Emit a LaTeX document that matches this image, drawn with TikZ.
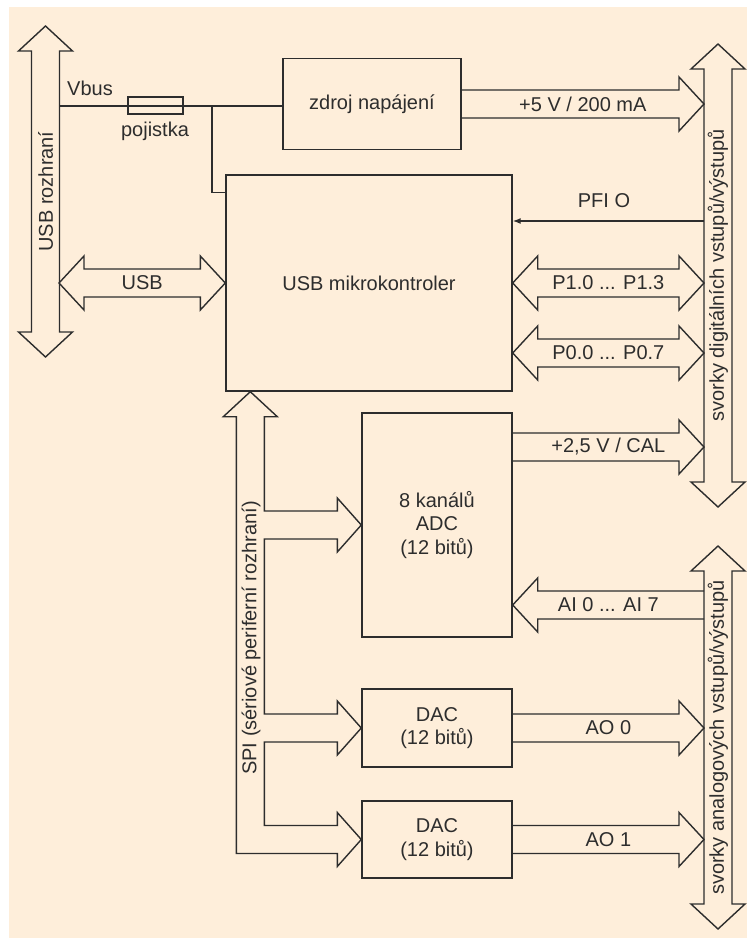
\documentclass[tikz,border=0pt]{standalone}
\usepackage{fontspec}
\setmainfont{Liberation Sans}
\usetikzlibrary{calc,arrows.meta}
\definecolor{paper}{RGB}{254,238,218}
\definecolor{ink}{RGB}{45,45,45}
\newcommand{\ahead}{13.5pt}
\newcommand{\ashaft}{7pt}
\newcommand{\ahlen}{12.5pt}
% fat arrow, head at #4 only: [label opts]{name}{from}{to}{label}
\newcommand{\onearrow}[5][]{%
  \draw[bus] ($(#3)!\ashaft!90:(#4)$)
    -- ($(#4)!\ahlen!(#3)!\ashaft!-90:(#3)$)
    -- ($(#4)!\ahlen!(#3)!\ahead!-90:(#3)$)
    -- (#4)
    -- ($(#4)!\ahlen!(#3)!\ahead!90:(#3)$)
    -- ($(#4)!\ahlen!(#3)!\ashaft!90:(#3)$)
    -- ($(#3)!\ashaft!-90:(#4)$);
  \node[lbl,#1] (#2) at ($(#3)!.5!(#4)$) {#5};}
% fat arrow, heads at both ends
\newcommand{\twoarrow}[5][]{%
  \draw[bus] (#3)
    -- ($(#3)!\ahlen!(#4)!\ahead!90:(#4)$)
    -- ($(#3)!\ahlen!(#4)!\ashaft!90:(#4)$)
    -- ($(#4)!\ahlen!(#3)!\ashaft!-90:(#3)$)
    -- ($(#4)!\ahlen!(#3)!\ahead!-90:(#3)$)
    -- (#4)
    -- ($(#4)!\ahlen!(#3)!\ahead!90:(#3)$)
    -- ($(#4)!\ahlen!(#3)!\ashaft!90:(#3)$)
    -- ($(#3)!\ahlen!(#4)!\ashaft!-90:(#4)$)
    -- ($(#3)!\ahlen!(#4)!\ahead!-90:(#4)$)
    -- cycle;
  \node[lbl,#1] (#2) at ($(#3)!.5!(#4)$) {#5};}

\begin{document}
\begin{tikzpicture}[x=0.5pt, y=-0.5pt,
  blk/.style = {draw=ink, line width=0.7pt, inner sep=0pt, align=center,
                font=\fontsize{10}{11.75}\selectfont, text=ink},
  bus/.style = {draw=ink, line width=0.7pt, line join=miter},
  w/.style   = {draw=ink, line width=0.7pt},
  lbl/.style = {font=\fontsize{10}{11.75}\selectfont, text=ink,
                inner sep=0pt, align=center}]

\useasboundingbox (0,0) rectangle (747,938);
\fill[paper] (9,7) rectangle (747,938);

% --- blocks -----------------------------------------------------------
\node[blk, minimum width=89pt,  minimum height=45.5pt] (zdroj) at (372,104)   {zdroj napájení};
\node[blk, minimum width=143pt, minimum height=108pt]  (mcu)   at (369,283)   {USB mikrokontroler};
\node[blk, minimum width=75pt,  minimum height=112pt]  (adc)   at (437,525)   {8 kanálů\\ADC\\(12 bitů)};
\node[blk, minimum width=75pt,  minimum height=39pt]   (dac1)  at (437,728)   {DAC\\(12 bitů)};
\node[blk, minimum width=75pt,  minimum height=38.5pt] (dac2)  at (437,839.5) {DAC\\(12 bitů)};

% --- bus ends and taps --------------------------------------------------
\coordinate (usbtop) at (45.5,26);  \coordinate (usbbot) at (45.5,357);
\coordinate (digtop) at (718,44);   \coordinate (digbot) at (718,507);
\coordinate (anatop) at (718,546);  \coordinate (anabot) at (718,929);
\coordinate (usbin) at (59,283);
\coordinate (v5)  at (704,104);
\coordinate (pfi) at (704,221);
\coordinate (p1)  at (704,283);
\coordinate (p0)  at (704,353);   \coordinate (p0m)  at (p0 -| mcu.east);
\coordinate (cal) at (704,447);   \coordinate (calm) at (cal -| adc.east);
\coordinate (ai)  at (704,605);   \coordinate (aim)  at (ai -| adc.east);
\coordinate (ao0) at (704,728);
\coordinate (ao1) at (704,839.5);
\coordinate (vbus) at (59,106);
\coordinate (tap)  at (212,106);

% --- buses --------------------------------------------------------------
\twoarrow[rotate=90]{usblbl}{usbtop}{usbbot}{USB rozhraní}
\twoarrow[rotate=90]{diglbl}{digtop}{digbot}{svorky digitálních vstupů/výstupů}
\twoarrow[rotate=90]{analbl}{anatop}{anabot}{svorky analogových vstupů/výstupů}

% --- power --------------------------------------------------------------
\draw[w] (vbus) -- (vbus -| zdroj.west);
\node[blk, minimum width=27.5pt, minimum height=8.5pt] (fuse) at (155.5,105.5) {};
\draw[w] (tap) |- ($(mcu.north west)+(0,18)$);
\node[lbl] (vbuslbl) at (90,88)  {Vbus};
\node[lbl] (fuselbl) at (155,131) {pojistka};
\onearrow{v5lbl}{zdroj.east}{v5}{+5 V / 200 mA}

% --- microcontroller links ---------------------------------------------
\twoarrow{usblink}{usbin}{mcu.west}{USB}
\draw[w, -{Latex[length=4pt,width=3pt]}] (pfi) -- (pfi -| mcu.east);
\node[lbl] (pfilbl) at (604,201) {PFI O};
\twoarrow{p1lbl}{mcu.east}{p1}{P1.0 ... P1.3}
\twoarrow{p0lbl}{p0m}{p0}{P0.0 ... P0.7}

% --- analog -------------------------------------------------------------
\onearrow{callbl}{calm}{cal}{+2,5 V / CAL}
\onearrow{ailbl}{ai}{aim}{AI 0 ... AI 7}
\onearrow{ao0lbl}{dac1.east}{ao0}{AO 0}
\onearrow{ao1lbl}{dac2.east}{ao1}{AO 1}

% --- SPI ----------------------------------------------------------------
\draw[bus] ($(mcu.south west)+(25,0)$)
  -- ++(27,25) -- ++(-13,0)
  |- ($(adc.west)+(-24,-14)$) -- ++(0,-13) -- (adc.west)
  -- ++(-24,27) -- ++(0,-13) -- ++(-73,0)
  |- ($(dac1.west)+(-24,-14)$) -- ++(0,-13) -- (dac1.west)
  -- ++(-24,27) -- ++(0,-13) -- ++(-73,0)
  |- ($(dac2.west)+(-24,-14)$) -- ++(0,-13) -- (dac2.west)
  -- ++(-24,27) -- ++(0,-13) -- ++(-101,0)
  |- ($(mcu.south west)+(11,25)$) -- ++(-13,0) -- cycle;
\node[lbl, rotate=90] (spilbl) at (251,638) {SPI (sériové periferní rozhraní)};
\end{tikzpicture}
\end{document}
